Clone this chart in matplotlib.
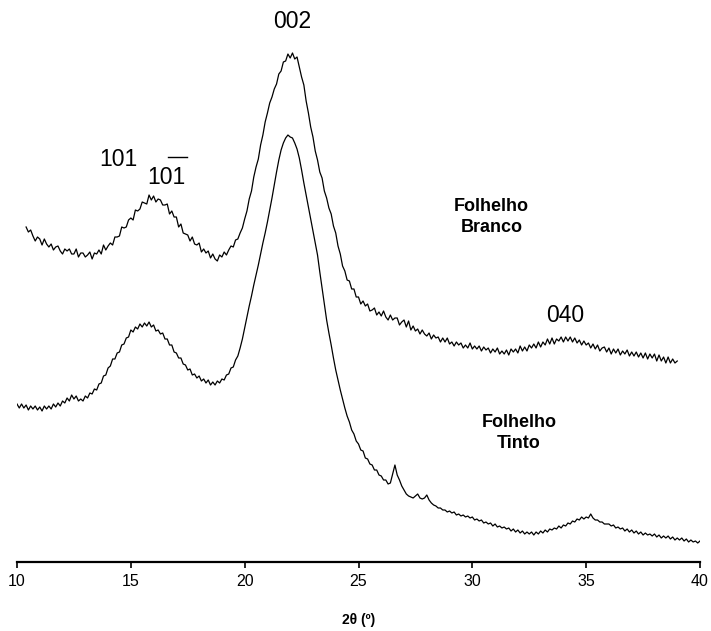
"""XRD patterns of Folhelho Branco / Folhelho Tinto."""
import numpy as np
import matplotlib
matplotlib.use('Agg')
import matplotlib.pyplot as plt

plt.rcParams['font.family'] = ['Liberation Sans', 'DejaVu Sans']

# ─── Data (intensity in arbitrary units) ───
# scan grid: 0.1 deg steps
BRANCO_START, BRANCO_STOP = 10.4, 39.0
branco = [
    335, 330, 332, 326, 321, 325, 323, 317, 323, 318, 315, 318, 312, 315, 316, 311,  # 10.4-11.9
    308, 313, 311, 313, 308, 308, 313, 305, 309, 309, 305, 307, 310, 303, 309, 308,  # 12.0-13.5
    312, 308, 317, 312, 316, 319, 317, 325, 325, 326, 335, 334, 335, 342, 344, 342,  # 13.6-15.1
    352, 351, 353, 360, 359, 358, 367, 362, 366, 360, 363, 362, 357, 357, 358, 348,  # 15.2-16.7
    351, 345, 345, 335, 338, 329, 328, 327, 321, 325, 318, 317, 319, 310, 313, 309,  # 16.8-18.3
    311, 304, 308, 303, 301, 307, 305, 310, 307, 312, 316, 315, 322, 323, 329, 334,  # 18.4-19.9
    343, 351, 363, 371, 385, 395, 403, 417, 427, 440, 449, 459, 465, 473, 478, 488,  # 20.0-21.5
    491, 500, 501, 508, 504, 509, 503, 505, 495, 485, 477, 461, 449, 435, 425, 411,  # 21.6-23.1
    402, 390, 384, 371, 364, 354, 348, 336, 329, 316, 308, 296, 291, 282, 281, 273,  # 23.2-24.7
    273, 265, 265, 258, 261, 256, 258, 251, 252, 254, 247, 250, 246, 251, 245, 242,  # 24.8-26.3
    247, 242, 244, 244, 237, 240, 242, 235, 241, 232, 236, 231, 233, 228, 232, 228,  # 26.4-27.9
    226, 229, 223, 227, 224, 225, 220, 224, 220, 224, 218, 220, 216, 220, 217, 219,  # 28.0-29.5
    214, 217, 214, 219, 213, 216, 213, 216, 211, 215, 212, 214, 209, 213, 210, 214,  # 29.6-31.1
    208, 211, 208, 212, 207, 213, 210, 213, 209, 216, 211, 215, 211, 217, 214, 218,  # 31.2-32.7
    214, 220, 215, 220, 217, 223, 218, 224, 218, 223, 221, 225, 220, 225, 221, 225,  # 32.8-34.3
    220, 224, 219, 222, 217, 221, 217, 219, 214, 218, 213, 217, 211, 214, 215, 210,  # 34.4-35.9
    214, 208, 213, 209, 213, 207, 211, 208, 212, 206, 210, 206, 210, 205, 209, 204,  # 36.0-37.5
    209, 203, 208, 204, 208, 201, 207, 201, 205, 199, 205, 199, 203, 199, 201,       # 37.6-39.0
]

TINTO_START, TINTO_STOP = 10.0, 40.0
tinto = [
    158, 154, 158, 154, 157, 152, 156, 153, 156, 152, 155, 151, 156, 153, 156, 153,  # 10.0-11.5
    158, 155, 159, 156, 161, 159, 164, 161, 167, 163, 166, 161, 163, 161, 166, 164,  # 11.6-13.1
    169, 168, 173, 172, 178, 179, 186, 187, 194, 196, 203, 203, 209, 210, 217, 218,  # 13.2-14.7
    224, 225, 232, 230, 235, 233, 238, 235, 239, 236, 240, 235, 237, 231, 232, 228,  # 14.8-16.3
    229, 223, 223, 217, 217, 210, 209, 204, 204, 198, 197, 192, 193, 187, 188, 184,  # 16.4-17.9
    186, 181, 183, 179, 182, 177, 180, 177, 181, 179, 183, 182, 187, 188, 194, 195,  # 18.0-19.5
    202, 206, 214, 223, 234, 245, 256, 266, 277, 287, 297, 308, 319, 329, 340, 352,  # 19.6-21.1
    364, 377, 390, 402, 412, 419, 424, 427, 425, 424, 419, 413, 404, 392, 379, 367,  # 21.2-22.7
    355, 343, 331, 319, 307, 290, 274, 258, 242, 229, 217, 204, 192, 182, 172, 163,  # 22.8-24.3
    154, 146, 140, 132, 128, 121, 118, 112, 111, 104, 103, 98, 97, 92, 92, 87,       # 24.4-25.9
    86, 82, 82, 78, 79, 88, 97, 87, 82, 76, 72, 68, 66, 65, 64, 66,                  # 26.0-27.5
    68, 64, 63, 64, 67, 62, 59, 57, 56, 54, 54, 52, 52, 50, 51, 49,                  # 27.6-29.1
    50, 47, 48, 46, 47, 45, 46, 44, 45, 42, 43, 41, 42, 39, 40, 38,                  # 29.2-30.7
    39, 36, 38, 35, 36, 34, 35, 33, 34, 31, 33, 30, 32, 29, 31, 28,                  # 30.8-32.3
    30, 28, 30, 27, 30, 28, 31, 29, 32, 30, 33, 32, 34, 33, 36, 34,                  # 32.4-33.9
    37, 36, 39, 38, 41, 40, 43, 42, 45, 43, 45, 44, 48, 44, 42, 42,                  # 34.0-35.5
    40, 40, 38, 38, 38, 36, 37, 34, 35, 33, 34, 31, 33, 30, 32, 29,                  # 35.6-37.1
    31, 28, 30, 27, 29, 27, 28, 26, 28, 25, 27, 24, 26, 24, 26, 23,                  # 37.2-38.7
    25, 22, 24, 22, 24, 21, 23, 20, 22, 20, 21, 19, 21,                              # 38.8-40.0
]

x_branco = np.linspace(BRANCO_START, BRANCO_STOP, len(branco))
x_tinto = np.linspace(TINTO_START, TINTO_STOP, len(tinto))

peak_labels = [('002', 22.08, 540), ('101', 14.45, 403), ('101', 16.55, 384), ('040', 34.1, 247)]
sample_labels = [('Folhelho\nBranco', 30.85, 345), ('Folhelho\nTinto', 32.05, 129)]

# ─── Plot ───
fig = plt.figure(figsize=(7.11, 6.31), dpi=100)
ax = fig.add_axes([17 / 711, 69 / 631, 683 / 711, 562 / 631])

ax.plot(x_branco, branco, color='black', lw=0.9)
ax.plot(x_tinto, tinto, color='black', lw=0.9)

for txt, x, y in peak_labels:
    ax.text(x, y, txt, ha='center', va='center', fontsize=16.5)
# overbar of the (-1 0 1) reflection
ax.plot([16.65, 17.45], [405, 405], color='black', lw=1.0)

for txt, x, y in sample_labels:
    ax.text(x, y, txt, ha='center', va='center', fontsize=13, fontweight='bold',
            linespacing=1.25)

ax.set_xlim(10, 40)
ax.set_ylim(0, 562)
ax.set_xticks([10, 15, 20, 25, 30, 35, 40])
ax.set_yticks([])
for s in ['top', 'right', 'left']:
    ax.spines[s].set_visible(False)
ax.spines['bottom'].set_linewidth(1.6)
ax.tick_params(axis='x', direction='out', length=4, width=1.2, pad=5, labelsize=11.5)
ax.set_xlabel('2θ (º)', fontsize=10, fontweight='bold', labelpad=17)

fig.savefig('out.png', dpi=100)
